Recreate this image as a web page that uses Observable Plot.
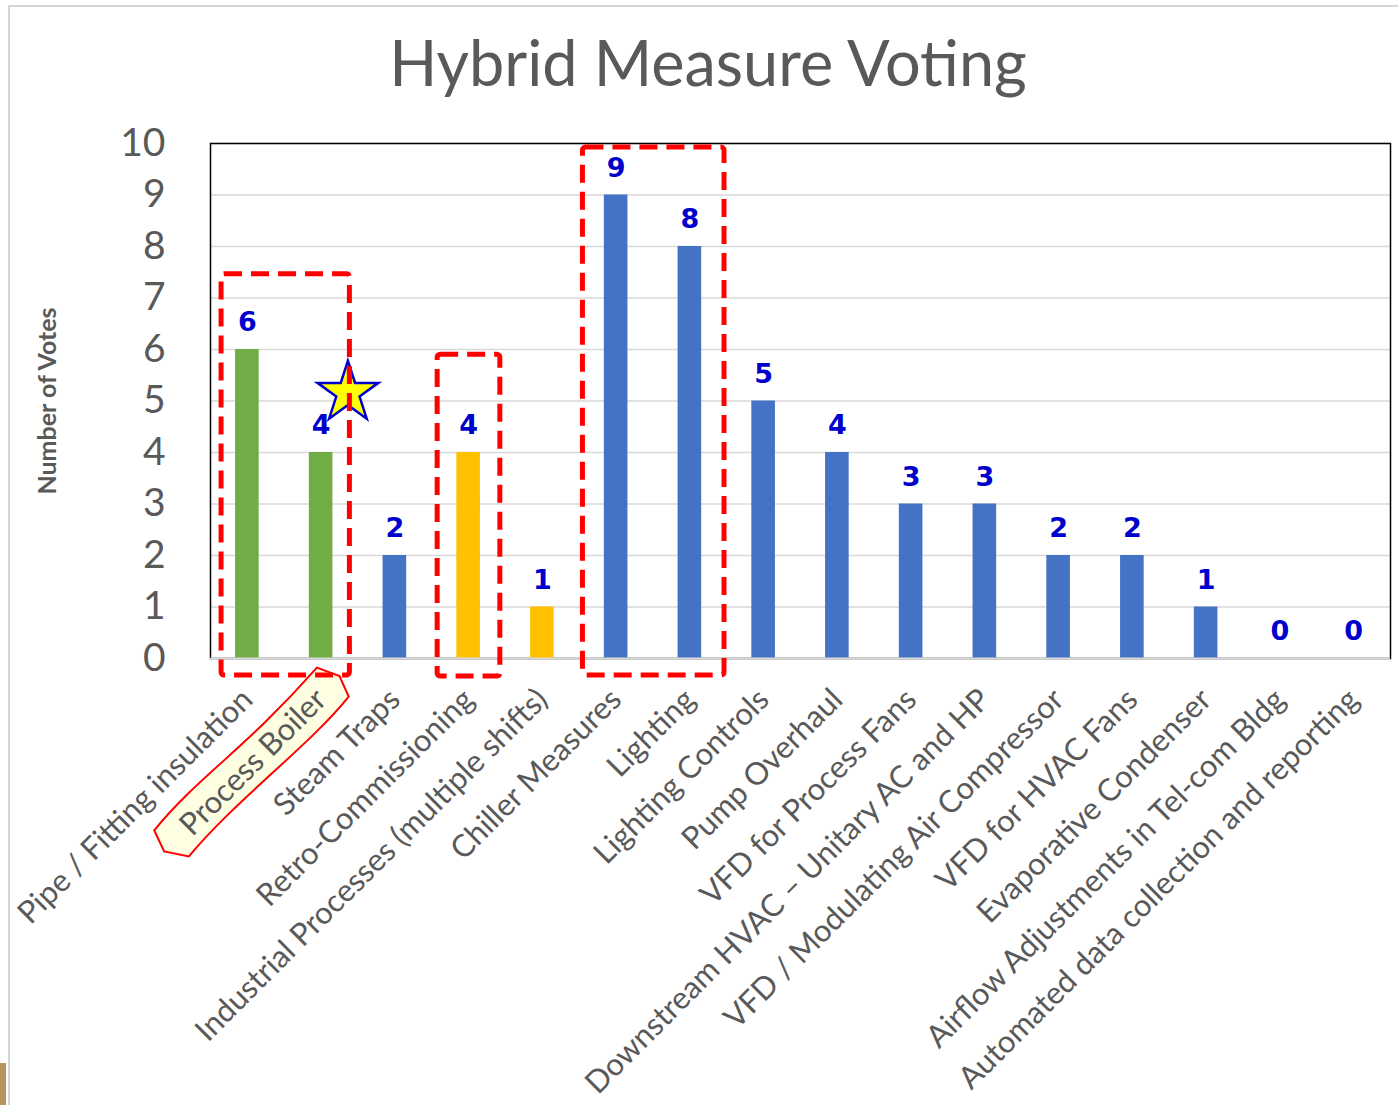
<!DOCTYPE html>
<html>
<head>
<meta charset="utf-8">
<script src="https://cdn.jsdelivr.net/npm/d3@7"></script>
<script src="https://cdn.jsdelivr.net/npm/@observablehq/plot@0.6"></script>
<style>
  html, body { margin: 0; padding: 0; background: #fff; }
  #page { position: relative; width: 1398px; height: 1105px; overflow: hidden; background: #fff; }
  #edge { position: absolute; left: 8px; top: 5px; right: -2px; bottom: -2px; border-left: 2px solid #d6d6d6; border-top: 2px solid #d6d6d6; }
  #tab { position: absolute; left: 0; top: 1063px; width: 6px; height: 42px; background: #b8955f; }
  #title { position: absolute; left: 9px; top: 0; width: 1398px; height: 120px; text-align: center;
           font-family: Lato, "Open Sans", sans-serif; font-weight: 400; font-size: 63px; line-height: 124px; color: #595959; }
  #chart { position: absolute; left: 0; top: 120px; }
</style>
</head>
<body>
<div id="page">
  <div id="edge"></div>
  <div id="tab"></div>
  <div id="title">Hybrid Measure Voting</div>
  <div id="chart"></div>
</div>
<script>
// ---- data ----
const categories = [
  "Pipe / Fitting insulation",
  "Process Boiler",
  "Steam Traps",
  "Retro-Commissioning",
  "Industrial Processes (multiple shifts)",
  "Chiller Measures",
  "Lighting",
  "Lighting Controls",
  "Pump Overhaul",
  "VFD for Process Fans",
  "Downstream HVAC – Unitary AC and HP",
  "VFD / Modulating Air Compressor",
  "VFD for HVAC Fans",
  "Evaporative Condenser",
  "Airflow Adjustments in Tel-com Bldg",
  "Automated data collection and reporting"
];
const votes = [6, 4, 2, 4, 1, 9, 8, 5, 4, 3, 3, 2, 2, 1, 0, 0];
const groups = ["Boiler", "Boiler", "Other", "Process", "Process", "Other", "Other", "Other",
                "Other", "Other", "Other", "Other", "Other", "Other", "Other", "Other"];
const groupNames = ["Boiler", "Process", "Other"];
const yTicks = [0, 1, 2, 3, 4, 5, 6, 7, 8, 9, 10];
const yLabel = "Number of Votes";
const highlighted = "Process Boiler";
// annotation boxes (category span, value span)
const boxFrom = ["Pipe / Fitting insulation", "Retro-Commissioning", "Chiller Measures"];
const boxTo = ["Process Boiler", "Retro-Commissioning", "Lighting"];
const boxTop = [7.46, 5.9, 9.92];
const boxBottom = [-0.33, -0.35, -0.33];
const starCategory = "Process Boiler";
const starValue = 5.15;

const data = categories.map((c, i) => ({category: c, votes: votes[i], group: groups[i]}));

const W = 1398, H = 985;
const plot = Plot.plot({
  width: W, height: H,
  marginTop: 23, marginBottom: 447, marginLeft: 210, marginRight: 8,
  x: {domain: categories, paddingInner: 0.68, paddingOuter: 0.34, round: false, label: null},
  y: {domain: [0, 10], label: null},
  color: {domain: groupNames, range: ["#70AD47", "#FFC000", "#4472C4"]},
  style: {fontFamily: "Lato, sans-serif", background: "transparent", overflow: "visible"},
  marks: [
    Plot.gridY(yTicks, {stroke: "#d9d9d9", strokeOpacity: 1, strokeWidth: 1.5}),
    Plot.frame({stroke: "#000", strokeWidth: 1.5}),
    Plot.barY(data, {x: "category", y: "votes", fill: "group"}),
    Plot.ruleY([0], {stroke: "#d9d9d9", strokeWidth: 2}),
    Plot.text(data, {x: "category", y: "votes", text: d => String(d.votes), dy: -27,
      fill: "#0000CC", fontWeight: "bold", fontSize: 27, fontFamily: "DejaVu Sans, Verdana, sans-serif"}),
    Plot.axisY({ticks: yTicks, tickSize: 0, tickPadding: 45, fontSize: 39, color: "#595959", label: null}),
    Plot.axisX({tickRotate: -45, tickSize: 0, tickPadding: 36, fontSize: 31, color: "#595959", label: null}),
    Plot.text([yLabel], {frameAnchor: "left", text: d => d, rotate: -90, dx: -163, textAnchor: "middle",
      fontSize: 25, fontWeight: "bold", fill: "#595959"})
  ]
});
document.getElementById("chart").appendChild(plot);

// ---- annotations drawn with the plot's scales ----
const xs = plot.scale("x"), ys = plot.scale("y");
const svg = d3.select(plot);
const step = xs.step, bw = xs.bandwidth;
const cx = c => xs.apply(c) + bw / 2;

// highlight behind "Process Boiler" tick label
svg.selectAll("text").each(function() {
  if (this.textContent === highlighted && this.getAttribute("transform")) {
    const L = this.getComputedTextLength();
    const t = this.getAttribute("transform");
    const g = d3.create("svg:g").attr("transform", t);
    const x0 = -L - 22, x1 = 26, yt = -22, yb = 21;
    const p = d3.path();
    p.moveTo(x0, yt);
    p.bezierCurveTo(x0 + 70, yt - 7, x0 + 120, yt + 7, x1 - 10, yt);
    p.lineTo(x1, 0);
    p.lineTo(x1 - 8, yb);
    p.bezierCurveTo(x1 - 70, yb + 7, x0 + 80, yb - 7, x0 + 6, yb);
    p.lineTo(x0 - 8, 0);
    p.closePath();
    g.append("path").attr("d", p.toString()).attr("fill", "#FEFEE2").attr("stroke", "#FF0000").attr("stroke-width", 2);
    this.parentNode.insertBefore(g.node(), this);
  }
});

// star
svg.append("path")
  .attr("d", d3.symbol(d3.symbolStar, 1150)())
  .attr("transform", `translate(${cx(starCategory) + 0.37 * step},${ys.apply(starValue)})`)
  .attr("fill", "#FFFF00").attr("stroke", "#0000CC").attr("stroke-width", 2.5);

// dashed boxes
const padL = [0.35, 0.42, 0.45], padR = [0.39, 0.43, 0.47];
boxFrom.forEach((f, i) => {
  const xl = cx(f) - padL[i] * step, xr = cx(boxTo[i]) + padR[i] * step;
  const yt = ys.apply(boxTop[i]), yb = ys.apply(boxBottom[i]);
  svg.append("rect").attr("x", xl).attr("y", yt).attr("width", xr - xl).attr("height", yb - yt)
    .attr("rx", 3).attr("fill", "none").attr("stroke", "#FF0000").attr("stroke-width", 5)
    .attr("stroke-dasharray", "18 9");
});
</script>
</body>
</html>
